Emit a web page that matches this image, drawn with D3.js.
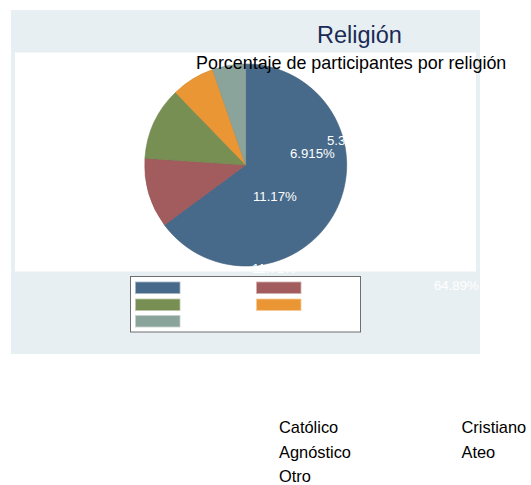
<!DOCTYPE html>
<html>
<head>
<meta charset="utf-8">
<script src="https://cdn.jsdelivr.net/npm/d3@7"></script>
<style>
  body { margin: 0; background: #fff; }
  text { font-family: "Liberation Sans", Arial, sans-serif; }
</style>
</head>
<body>
<div id="chart"></div>
<script>
// data
var categories = ["Católico", "Cristiano", "Agnóstico", "Ateo", "Otro"];
var values = [64.89, 11.17, 11.71, 6.915, 5.319];
var colors = ["#476a8a", "#a35c5e", "#778f52", "#ea9634", "#8aa39b"];

// where the slice labels end up (start anchor, baseline)
var labelPos = [[434, 290], [253, 200.5], [252, 273], [290, 157.5], [327, 145]];

var W = 531, H = 485;
var svg = d3.select("#chart").append("svg")
    .attr("width", W)
    .attr("height", H);

// outer graph region + inner plot region
svg.append("rect")
    .attr("x", 11).attr("y", 10)
    .attr("width", 469).attr("height", 344)
    .attr("fill", "#e8eff2");
svg.append("rect")
    .attr("x", 15).attr("y", 52.5)
    .attr("width", 461).attr("height", 219)
    .attr("fill", "#fff");

// pie
var cx = 245.7, cy = 165, r = 101;
var pie = d3.pie().sort(null).value(function(d) { return d; });
var arc = d3.arc().innerRadius(0).outerRadius(r);

var g = svg.append("g")
    .attr("transform", "translate(" + cx + "," + cy + ")");
g.selectAll("path")
  .data(pie(values))
  .enter()
  .append("path")
    .attr("d", arc)
    .attr("fill", function(d, i) { return colors[i]; })
    .attr("stroke", function(d, i) { return d3.color(colors[i]).darker(0.25); })
    .attr("stroke-width", 0.6);

// slice labels (white)
var fmt = d3.format(".4~g");
svg.selectAll("text.plab")
  .data(values)
  .enter()
  .append("text")
    .attr("class", "plab")
    .attr("x", function(d, i) { return labelPos[i][0]; })
    .attr("y", function(d, i) { return labelPos[i][1]; })
    .attr("fill", "#fff")
    .attr("font-size", 13.2)
    .text(function(d) { return fmt(d) + "%"; });

// titles
svg.append("text")
    .attr("x", 359.5).attr("y", 43)
    .attr("text-anchor", "middle")
    .attr("fill", "#1a2b57")
    .attr("font-size", 23.5)
    .text("Religión");
svg.append("text")
    .attr("x", 196).attr("y", 69)
    .attr("fill", "#000")
    .attr("font-size", 17.9)
    .text("Porcentaje de participantes por religión");

// legend box with swatches
svg.append("rect")
    .attr("x", 130.5).attr("y", 276.5)
    .attr("width", 230).attr("height", 55.5)
    .attr("fill", "#fff")
    .attr("stroke", "#6e6e6e")
    .attr("stroke-width", 1);

var swX = [135.5, 256.5], swY = [282, 299, 315.5];
svg.selectAll("rect.sw")
  .data(categories)
  .enter()
  .append("rect")
    .attr("class", "sw")
    .attr("x", function(d, i) { return swX[i % 2]; })
    .attr("y", function(d, i) { return swY[Math.floor(i / 2)]; })
    .attr("width", 44.5)
    .attr("height", 11.5)
    .attr("fill", function(d, i) { return colors[i]; })
    .attr("stroke", function(d, i) { return d3.interpolateRgb(colors[i], "#fff")(0.5); })
    .attr("stroke-width", 0.8);

// legend keys drawn below the graph
var keyX = [279, 461.5], keyY = [433, 457.5, 482];
svg.selectAll("text.key")
  .data(categories)
  .enter()
  .append("text")
    .attr("class", "key")
    .attr("x", function(d, i) { return keyX[i % 2]; })
    .attr("y", function(d, i) { return keyY[Math.floor(i / 2)]; })
    .attr("fill", "#000")
    .attr("font-size", 16.4)
    .text(function(d) { return d; });
</script>
</body>
</html>
